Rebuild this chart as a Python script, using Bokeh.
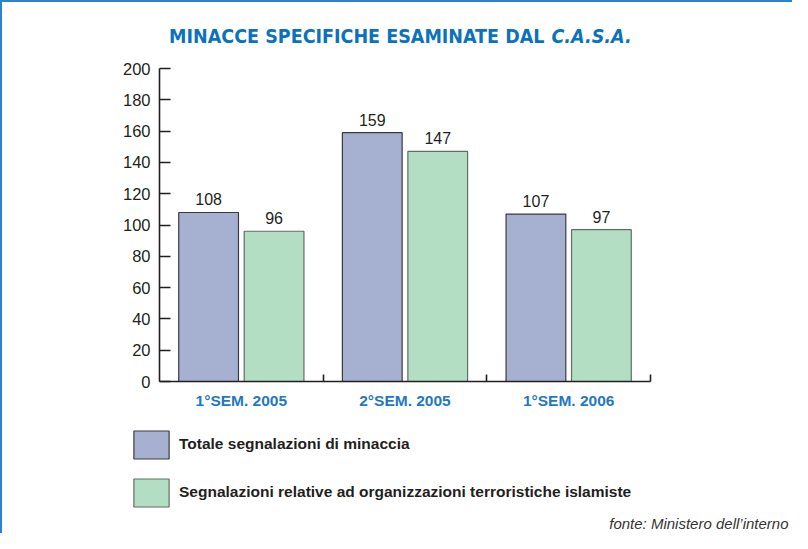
from bokeh.plotting import figure
from bokeh.layouts import column
from bokeh.models import (ColumnDataSource, FixedTicker, Label, LabelSet, Legend,
                          LegendItem, Range1d)
from bokeh.core.properties import value
from bokeh.embed import file_html
from bokeh.resources import INLINE

# ---- data ----
categories = ["1°SEM. 2005", "2°SEM. 2005", "1°SEM. 2006"]
totale = [108, 159, 107]
islamiste = [96, 147, 97]
y_ticks = [0, 20, 40, 60, 80, 100, 120, 140, 160, 180, 200]
series_names = ["Totale segnalazioni di minaccia",
                "Segnalazioni relative ad organizzazioni terroristiche islamiste"]
title_main = "MINACCE SPECIFICHE ESAMINATE DAL"
title_italic = "C.A.S.A."
source_note = "fonte: Ministero dell\u2019interno"

BLUE_FILL = "#a6b0d0"
GREEN_FILL = "#b3dec3"
BLUE_LINE = "#3a3a40"
GREEN_LINE = "#5f6f63"
DARK = "#231f20"
TITLE_BLUE = "#0b72bd"
LABEL_BLUE = "#1f78c1"
BORDER_BLUE = "#2a82d2"
TITLE_FONT = "DejaVu Sans Condensed, Roboto"

W = 790
TOP_H, MAIN_H, BOT_H = 56, 364, 111


def blank(h):
    f = figure(width=W, height=h, output_backend="svg", toolbar_location=None,
               x_range=Range1d(0, W), y_range=Range1d(0, h),
               x_axis_type=None, y_axis_type=None,
               min_border=0, min_border_left=0, min_border_right=0,
               min_border_top=0, min_border_bottom=0)
    f.outline_line_color = None
    f.grid.visible = False
    f.background_fill_color = "white"
    f.border_fill_color = "white"
    return f


# ---- title strip ----
t = blank(TOP_H)
t.add_layout(Label(x=542, y=22, text=title_main, text_align="right",
                   text_baseline="alphabetic",
                   text_font=TITLE_FONT, text_font_style="bold",
                   text_font_size="19.5px", text_color=TITLE_BLUE))
t.add_layout(Label(x=549, y=22, text=title_italic, text_align="left",
                   text_baseline="alphabetic",
                   text_font=TITLE_FONT, text_font_style="bold italic",
                   text_font_size="19.5px", text_color=TITLE_BLUE))

# ---- main chart ----
FL, FR = 157, 648
p = figure(width=W, height=MAIN_H, output_backend="svg", toolbar_location=None,
           x_range=Range1d(0, len(categories)), y_range=Range1d(0, 200),
           min_border_left=FL, min_border_right=W - FR,
           min_border_top=10, min_border_bottom=41)
p.outline_line_color = None
p.grid.visible = False
p.background_fill_color = "white"
p.border_fill_color = "white"

idx = list(range(len(categories)))
src = ColumnDataSource(dict(
    x1=[i + 0.5 - 0.2 for i in idx], x2=[i + 0.5 + 0.2 for i in idx],
    t=totale, s=islamiste,
    tl=[str(v) for v in totale], sl=[str(v) for v in islamiste]))

r1 = p.vbar(x="x1", top="t", width=0.365, source=src,
            fill_color=BLUE_FILL, line_color=BLUE_LINE, line_width=1.2)
r2 = p.vbar(x="x2", top="s", width=0.365, source=src,
            fill_color=GREEN_FILL, line_color=GREEN_LINE, line_width=1.2)

for xcol, ycol, lcol in (("x1", "t", "tl"), ("x2", "s", "sl")):
    p.add_layout(LabelSet(x=xcol, y=ycol, text=lcol, source=src, y_offset=7,
                          text_align="center", text_baseline="alphabetic",
                          text_font=value("Liberation Sans"),
                          text_font_size=value("16px"),
                          text_color=DARK))

ya = p.yaxis[0]
ya.ticker = FixedTicker(ticks=y_ticks)
ya.major_tick_in = 11
ya.major_tick_out = 0
ya.minor_tick_line_color = None
ya.major_label_standoff = 9
ya.major_label_text_font = "Liberation Sans"
ya.major_label_text_font_size = "16.5px"
ya.major_label_text_color = DARK
ya.axis_line_color = DARK
ya.axis_line_width = 1.6
ya.major_tick_line_color = DARK
ya.major_tick_line_width = 1.6

xa = p.xaxis[0]
xa.ticker = FixedTicker(ticks=[i + 0.5 for i in idx],
                        minor_ticks=[i + 1 for i in idx])
xa.major_label_overrides = {i + 0.5: c for i, c in zip(idx, categories)}
xa.major_tick_in = 0
xa.major_tick_out = 0
xa.minor_tick_in = 7
xa.minor_tick_out = 0
xa.minor_tick_line_color = DARK
xa.minor_tick_line_width = 1.6
xa.axis_line_color = DARK
xa.axis_line_width = 1.6
xa.major_label_standoff = 10
xa.major_label_text_font = "Liberation Sans"
xa.major_label_text_font_style = "bold"
xa.major_label_text_font_size = "15.5px"
xa.major_label_text_color = LABEL_BLUE

# ---- legend + source strip ----
b = blank(BOT_H)
# legend proxies: one swatch each, placed outside the visible range
proxy = ColumnDataSource(dict(x=[-100], top=[-100]))
d1 = b.vbar(x="x", top="top", width=1, source=proxy, fill_color=BLUE_FILL,
            line_color=BLUE_LINE, line_width=1.2)
d2 = b.vbar(x="x", top="top", width=1, source=proxy, fill_color=GREEN_FILL,
            line_color=GREEN_LINE, line_width=1.2)
legend = Legend(items=[LegendItem(label=series_names[0], renderers=[d1]),
                       LegendItem(label=series_names[1], renderers=[d2])],
                location=(127, 23.5), orientation="vertical",
                glyph_width=44, glyph_height=35, label_height=35,
                label_standoff=6, spacing=13, padding=0, margin=0,
                border_line_color=None, background_fill_alpha=0,
                label_text_font="Liberation Sans", label_text_font_style="bold",
                label_text_font_size="15.5px", label_text_color=DARK)
b.add_layout(legend)
b.add_layout(Label(x=786, y=10, text=source_note, text_align="right",
                   text_baseline="alphabetic",
                   text_font="Liberation Sans", text_font_style="italic",
                   text_font_size="15px", text_color="#333333"))

# wrap the strips so their frames are not aligned with the chart's frame
layout = column(column(t, spacing=0), column(p, spacing=0), column(b, spacing=0),
                spacing=0)
layout.styles = {"border-top": f"2px solid {BORDER_BLUE}",
                 "border-left": f"2px solid {BORDER_BLUE}"}

open("out.html", "w").write(file_html(layout, INLINE))
